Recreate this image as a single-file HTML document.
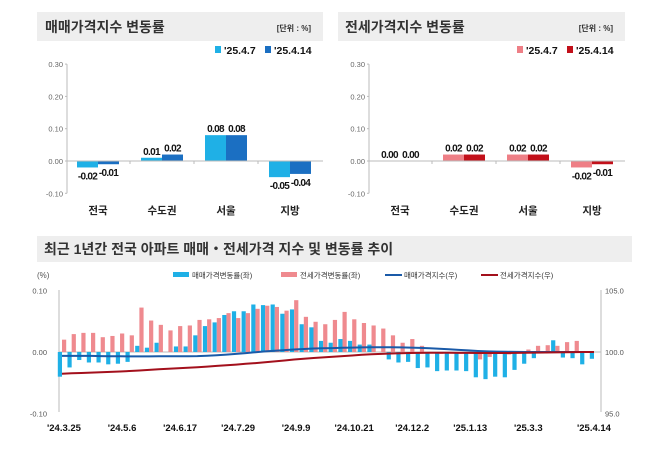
<!DOCTYPE html>
<html><head><meta charset="utf-8"><style>
body{margin:0;background:#fff;width:658px;height:446px;overflow:hidden;font-family:"Liberation Sans","Noto Sans CJK KR",sans-serif}
svg text{font-family:"Liberation Sans","Noto Sans CJK KR",sans-serif}
</style></head><body>
<svg id="s" width="658" height="446" xmlns="http://www.w3.org/2000/svg">
<rect x="37" y="12" width="286" height="29" fill="#eeeeee"/>
<text x="45" y="32" font-size="14" font-weight="bold" fill="#333">매매가격지수 변동률</text>
<text x="311" y="31" font-size="8" font-weight="bold" text-anchor="end" fill="#333">[단위 : %]</text>
<rect x="338" y="12" width="287" height="29" fill="#eeeeee"/>
<text x="345" y="32" font-size="14" font-weight="bold" fill="#333">전세가격지수 변동률</text>
<text x="613" y="31" font-size="8" font-weight="bold" text-anchor="end" fill="#333">[단위 : %]</text>
<rect x="37" y="236" width="595" height="26" fill="#eeeeee"/>
<text x="44" y="254" font-size="14" font-weight="bold" fill="#333">최근 1년간 전국 아파트 매매・전세가격 지수 및 변동률 추이</text>
<g id="topg"></g>
<g id="botg"></g>
</svg>
<script>
const regions=['전국','수도권','서울','지방'];
const saleWeek1=[-0.02,0.01,0.08,-0.05];
const saleWeek2=[-0.01,0.02,0.08,-0.04];
const jeonseWeek1=[0.00,0.02,0.02,-0.02];
const jeonseWeek2=[0.00,0.02,0.02,-0.01];
const topTicks=[0.30,0.20,0.10,0.00,-0.10];
const seriesNames=["'25.4.7","'25.4.14"];

const weekLabels=["'24.3.25","'24.5.6","'24.6.17","'24.7.29","'24.9.9","'24.10.21","'24.12.2","'25.1.13","'25.3.3","'25.4.14"];
const saleRate=[-0.04,-0.025,-0.013,-0.017,-0.017,-0.02,-0.019,-0.016,0.01,0.007,0.015,0.0,0.009,0.009,0.027,0.042,0.048,0.06,0.066,0.066,0.077,0.076,0.077,0.062,0.069,0.045,0.04,0.018,0.015,0.021,0.018,0.012,0.012,0.0,-0.012,-0.017,-0.016,-0.026,-0.025,-0.031,-0.03,-0.03,-0.031,-0.041,-0.044,-0.04,-0.041,-0.029,-0.019,-0.01,0.0,0.019,-0.009,-0.01,-0.02,-0.011];
const jeonseRate=[0.02,0.029,0.031,0.031,0.024,0.026,0.03,0.027,0.072,0.051,0.044,0.035,0.042,0.043,0.052,0.053,0.055,0.063,0.055,0.063,0.07,0.075,0.073,0.067,0.084,0.057,0.049,0.045,0.052,0.065,0.053,0.047,0.043,0.038,0.027,0.015,0.021,0.01,0.0,-0.003,-0.002,-0.001,0.0,-0.012,-0.008,0.0,-0.004,-0.002,0.004,0.01,0.011,0.01,0.016,0.018,0.0,0.0];
const saleIndex=[99.68,99.68,99.68,99.68,99.67,99.66,99.65,99.64,99.64,99.64,99.65,99.65,99.65,99.66,99.67,99.7,99.74,99.79,99.85,99.91,99.98,100.05,100.1,100.15,100.2,100.24,100.28,100.3,100.32,100.34,100.36,100.37,100.38,100.38,100.38,100.37,100.36,100.33,100.3,100.26,100.22,100.17,100.13,100.08,100.05,100.03,100.02,100.01,100.0,100.0,100.0,100.0,100.0,100.0,100.0,100.0];
const jeonseIndex=[98.24,98.27,98.3,98.33,98.36,98.39,98.42,98.46,98.5,98.55,98.6,98.64,98.68,98.72,98.77,98.82,98.87,98.92,98.98,99.04,99.1,99.17,99.24,99.31,99.39,99.45,99.51,99.56,99.61,99.67,99.72,99.77,99.81,99.85,99.88,99.9,99.92,99.93,99.94,99.94,99.94,99.93,99.93,99.92,99.92,99.92,99.92,99.93,99.94,99.95,99.96,99.97,99.98,99.99,100.0,100.0];
const leftTicks=[0.10,0.00,-0.10];
const rightTicks=[105.0,100.0,95.0];

const NS='http://www.w3.org/2000/svg';
function mk(p,t,a,txt){const e=document.createElementNS(NS,t);for(const k in a)e.setAttribute(k,a[k]);if(txt!==undefined)e.textContent=txt;p.appendChild(e);return e;}
const topG=document.getElementById('topg');
function panel(ox,a,b,c1,c2,pre){
  const y=v=>161-v*323;
  const ax=ox+30;
  for(const t of topTicks){
    const tl=mk(topG,'text',{x:ax-4,y:y(t)+3,'font-size':7.5,fill:'#666','text-anchor':'end'},t.toFixed(2));
    
    
    mk(topG,'line',{x1:ax-2,x2:ax,y1:y(t),y2:y(t),stroke:'#bbb'});
  }
  mk(topG,'line',{x1:ax,x2:ax,y1:y(0.3),y2:y(-0.1),stroke:'#bbb'});
  regions.forEach((r,i)=>{
    const cx=ax+31+i*64;
    [[a[i],c1,cx-21,0],[b[i],c2,cx,1]].forEach(([v,c,x,k])=>{
      const h=Math.abs(v*323);
      const bar=mk(topG,'rect',{x:x,y:v>=0?y(v):y(0),width:21,height:Math.max(h,0),fill:c});
      
      
      const lbl=mk(topG,'text',{x:x+10.5,y:v>=0?y(v)-3:y(v)+12,'font-size':10,'font-weight':'bold','text-anchor':'middle','letter-spacing':'-0.7',fill:'#111'},v.toFixed(2));
      
      
    });
    const cl=mk(topG,'text',{x:cx,y:214,'font-size':10.5,'font-weight':'bold','text-anchor':'middle',fill:'#222'},r);
    
    
    if(i>0)mk(topG,'line',{x1:cx-32,x2:cx-32,y1:y(0),y2:y(0)+3,stroke:'#bbb'});
  });
  mk(topG,'line',{x1:ax,x2:ax+256,y1:y(0),y2:y(0),stroke:'#bbb'});
  const lx=ox+178;
  [[c1,seriesNames[0],lx],[c2,seriesNames[1],lx+50]].forEach(([c,n,x])=>{
    mk(topG,'rect',{x:x,y:46,width:6,height:7,fill:c});
    const lt=mk(topG,'text',{x:x+9,y:54,'font-size':10.5,'font-weight':'bold',fill:'#111'},n);
    
    
  });
}
panel(37,saleWeek1,saleWeek2,'#1fb0e6','#1b6fc2','sale');
panel(339,jeonseWeek1,jeonseWeek2,'#ee7f86','#c2101a','jeonse');

const botG=document.getElementById('botg');
const x0=62,dx=(594-62)/(saleRate.length-1);
const yl=v=>352-v*617;
const yr=v=>352-(v-100)*12.34;
mk(botG,'text',{x:37,y:278,'font-size':8,fill:'#555'},'(%)');
for(const t of leftTicks){const e=mk(botG,'text',{x:47,y:yl(t)+3,'font-size':7.5,fill:'#555','text-anchor':'end'},t.toFixed(2));
 
 }
for(const t of rightTicks){const e=mk(botG,'text',{x:605,y:yr(t)+3,'font-size':7.5,fill:'#555'},t.toFixed(1));
 
 }
mk(botG,'line',{x1:59,x2:59,y1:290,y2:412,stroke:'#bbb'});
mk(botG,'line',{x1:601,x2:601,y1:290,y2:412,stroke:'#bbb'});
mk(botG,'line',{x1:59,x2:601,y1:352,y2:352,stroke:'#bbb'});
saleRate.forEach((v,i)=>{
  const x=x0+i*dx;
  const b=mk(botG,'rect',{x:x-4.2,y:Math.min(yl(v),352),width:4.2,height:Math.abs(v*617),fill:'#1fb0e6'});
  
  
  const w=jeonseRate[i];
  const r=mk(botG,'rect',{x:x,y:Math.min(yl(w),352),width:4.2,height:Math.abs(w*617),fill:'#ef8a8f'});
  
  
});
const pth=arr=>arr.map((v,i)=>(i?'L':'M')+(x0+i*dx).toFixed(1)+','+yr(v).toFixed(1)).join('');
const l1=mk(botG,'path',{d:pth(saleIndex),stroke:'#1a5aa8',fill:'none','stroke-width':2});


const l2=mk(botG,'path',{d:pth(jeonseIndex),stroke:'#a3101c',fill:'none','stroke-width':2});


weekLabels.forEach((t,i)=>{
  const xx=i==9?x0+55*dx:x0+i*6*dx+2;
  const e=mk(botG,'text',{x:xx,y:431,'font-size':9.5,'font-weight':'bold','text-anchor':'middle',fill:'#111'},t);
  
  
});
const legs=[['rect','#1fb0e6','매매가격변동률(좌)',173],['rect','#ef8a8f','전세가격변동률(좌)',281],['line','#1a5aa8','매매가격지수(우)',385],['line','#a3101c','전세가격지수(우)',481]];
legs.forEach(([k,c,n,x])=>{
  if(k=='rect')mk(botG,'rect',{x:x,y:272,width:16,height:5,fill:c});
  else mk(botG,'line',{x1:x,x2:x+17,y1:275,y2:275,stroke:c,'stroke-width':2});
  const e=mk(botG,'text',{x:x+19,y:278,'font-size':7.5,fill:'#333'},n);
  
  
});
</script>
</body></html>
